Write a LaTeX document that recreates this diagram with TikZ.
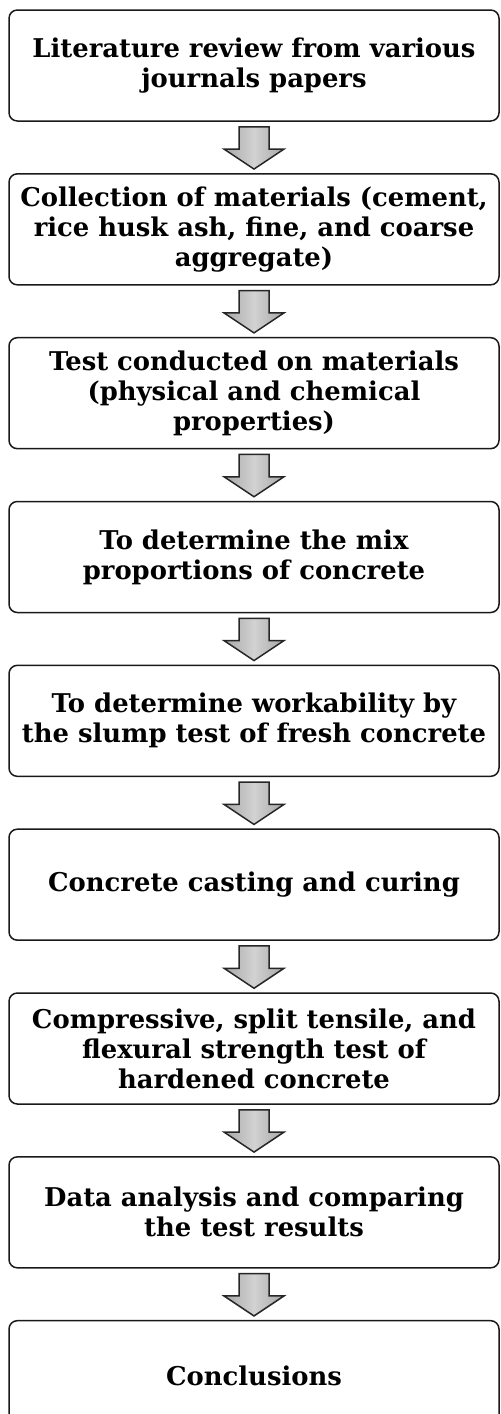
\documentclass[tikz,border=0pt]{standalone}
\usepackage{fontspec}
\setmainfont{DejaVu Serif}
\usepackage{tikz}
\usetikzlibrary{positioning,calc}
\tikzset{stepbox/.style={shape=rectangle, rounded corners=5pt, draw=black!90, line width=0.9pt, minimum width=294pt, minimum height=66.6pt, inner sep=2pt, align=center, font=\bfseries\fontsize{15.5}{18}\selectfont}}
\tikzset{flowarrow/.style={draw=black!85, line width=0.9pt, line join=miter, left color=gray!70, right color=gray!70, middle color=gray!35}}

\begin{document}
\begin{tikzpicture}[node distance=30.8pt]
\useasboundingbox (0,0) rectangle (300pt,-848.4pt);
%Nodes
\node[stepbox] (lit)   at (152.4pt,-39.3pt) {Literature review from various\\journals papers};
\node[stepbox] (coll)  [below=of lit]   {Collection of materials (cement,\\rice husk ash, fine, and coarse\\aggregate)};
\node[stepbox] (test)  [below=of coll]  {Test conducted on materials\\(physical and chemical\\properties)};
\node[stepbox] (mix)   [below=of test]  {To determine the mix\\proportions of concrete};
\node[stepbox] (slump) [below=of mix]   {To determine workability by\\the slump test of fresh concrete};
\node[stepbox] (cast)  [below=of slump] {Concrete casting and curing};
\node[stepbox] (hard)  [below=of cast]  {Compressive, split tensile, and\\flexural strength test of\\hardened concrete};
\node[stepbox] (data)  [below=of hard]  {Data analysis and comparing\\the test results};
\node[stepbox] (concl) [below=of data]  {Conclusions};
%Arrows
\foreach \a/\b in {lit/coll, coll/test, test/mix, mix/slump, slump/cast, cast/hard, hard/data, data/concl}
  \draw[flowarrow] ($(\a.south)+(-9pt,-3pt)$) -- ($(\a.south)+(9pt,-3pt)$)
    -- ($(\b.north)+(9pt,14.4pt)$) -- ($(\b.north)+(18pt,14.4pt)$)
    -- ($(\b.north)+(0,2.4pt)$)
    -- ($(\b.north)+(-18pt,14.4pt)$) -- ($(\b.north)+(-9pt,14.4pt)$) -- cycle;
\end{tikzpicture}
\end{document}
